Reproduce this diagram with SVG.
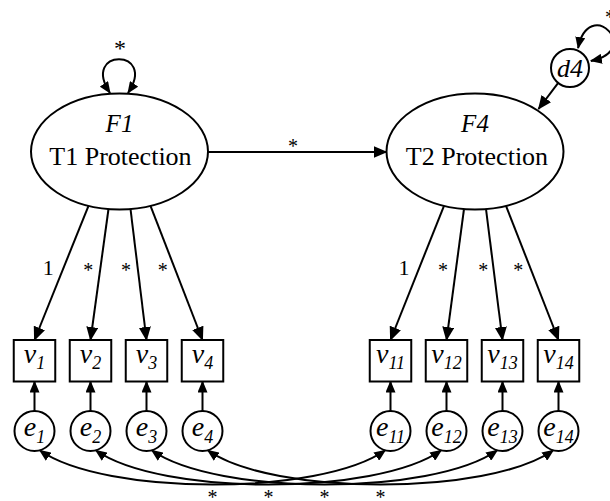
<svg xmlns="http://www.w3.org/2000/svg" width="610" height="501" viewBox="0 0 610 501" font-family="'Liberation Serif', 'Times New Roman', Times, 'DejaVu Serif', serif">
  <style>
    .shape { fill: #fff; stroke: #000; stroke-width: 2; }
    .edge { fill: none; stroke: #000; stroke-width: 2; }
    text { font-family: 'Liberation Serif', 'Times New Roman', Times, 'DejaVu Serif', serif; fill: #000; }
    .it { font-style: italic; }
    .big { font-size: 26px; }
    .var { font-size: 28px; font-style: italic; }
    .sub { font-size: 18px; }
    .star { font-size: 20px; }
  </style>
  <defs>
    <marker id="head" markerUnits="userSpaceOnUse" markerWidth="14" markerHeight="12" refX="13" refY="6" orient="auto">
      <path d="M0,0 L14,6 L0,12 z" fill="#000"/>
    </marker>
    <marker id="headS" markerUnits="userSpaceOnUse" markerWidth="12" markerHeight="10" refX="11" refY="5" orient="auto">
      <path d="M0,0 L12,5 L0,10 z" fill="#000"/>
    </marker>
    <marker id="headB" markerUnits="userSpaceOnUse" markerWidth="12" markerHeight="10" refX="11" refY="5" orient="auto-start-reverse">
      <path d="M0,0 L12,5 L0,10 z" fill="#000"/>
    </marker>
  </defs>
  <rect width="610" height="501" fill="#fff"/>

  <!-- connectors -->
  <g id="connectors">
    <!-- variance loops -->
    <path class="edge" d="M110,93 C80,48 158,48 128,93" marker-start="url(#headB)" marker-end="url(#headB)"/>
    <path class="edge" d="M578.1,48.1 C588.7,-4.9 643.9,50.3 590.9,60.9" marker-start="url(#headB)" marker-end="url(#headB)"/>
    <!-- structural paths -->
    <line class="edge" x1="208" y1="152" x2="386.5" y2="152" marker-end="url(#head)"/>
    <line class="edge" x1="558.2" y1="82.8" x2="538.5" y2="109" marker-end="url(#head)"/>
    <!-- loadings F1 -->
    <line class="edge" x1="88.5" y1="205.8" x2="34.5" y2="340" marker-end="url(#head)"/>
    <line class="edge" x1="108.5" y1="209" x2="90.5" y2="340" marker-end="url(#head)"/>
    <line class="edge" x1="130.5" y1="209" x2="146.5" y2="340" marker-end="url(#head)"/>
    <line class="edge" x1="150.5" y1="205.8" x2="202.5" y2="340" marker-end="url(#head)"/>
    <!-- loadings F4 -->
    <line class="edge" x1="444" y1="205.8" x2="390.5" y2="340" marker-end="url(#head)"/>
    <line class="edge" x1="464" y1="209" x2="446.5" y2="340" marker-end="url(#head)"/>
    <line class="edge" x1="486" y1="209" x2="502.5" y2="340" marker-end="url(#head)"/>
    <line class="edge" x1="506" y1="205.8" x2="558.5" y2="340" marker-end="url(#head)"/>
    <!-- residual paths -->
    <line class="edge" x1="34.5" y1="411" x2="34.5" y2="381.5" marker-end="url(#headS)"/>
    <line class="edge" x1="90.5" y1="411" x2="90.5" y2="381.5" marker-end="url(#headS)"/>
    <line class="edge" x1="146.5" y1="411" x2="146.5" y2="381.5" marker-end="url(#headS)"/>
    <line class="edge" x1="202.5" y1="411" x2="202.5" y2="381.5" marker-end="url(#headS)"/>
    <line class="edge" x1="390.5" y1="411" x2="390.5" y2="381.5" marker-end="url(#headS)"/>
    <line class="edge" x1="446.5" y1="411" x2="446.5" y2="381.5" marker-end="url(#headS)"/>
    <line class="edge" x1="502.5" y1="411" x2="502.5" y2="381.5" marker-end="url(#headS)"/>
    <line class="edge" x1="558.5" y1="411" x2="558.5" y2="381.5" marker-end="url(#headS)"/>
    <!-- residual covariances -->
    <path class="edge" d="M39.7,450.3 C104.5,496 320.5,496 385.3,450.3" marker-start="url(#headB)" marker-end="url(#headB)"/>
    <path class="edge" d="M95.7,450.3 C160.5,496 376.5,496 441.3,450.3" marker-start="url(#headB)" marker-end="url(#headB)"/>
    <path class="edge" d="M151.7,450.3 C216.5,496 432.5,496 497.3,450.3" marker-start="url(#headB)" marker-end="url(#headB)"/>
    <path class="edge" d="M207.7,450.3 C272.5,496 488.5,496 553.3,450.3" marker-start="url(#headB)" marker-end="url(#headB)"/>
    <!-- parameter labels -->
    <g class="star" text-anchor="middle">
      <text x="120" y="56" font-size="24">*</text>
      <text x="610" y="24">*</text>
      <text x="293" y="153">*</text>
      <text x="88.3" y="277">*</text>
      <text x="126" y="277">*</text>
      <text x="162.7" y="277">*</text>
      <text x="443" y="277">*</text>
      <text x="483.3" y="277">*</text>
      <text x="518.3" y="277">*</text>
      <text x="212.5" y="504">*</text>
      <text x="268.5" y="504">*</text>
      <text x="324.5" y="504">*</text>
      <text x="380.5" y="504">*</text>
    </g>
    <g font-size="22" text-anchor="middle">
      <text x="48.3" y="275">1</text>
      <text x="404" y="275">1</text>
    </g>
  </g>

  <!-- latent factors -->
  <g id="F1">
    <ellipse class="shape" cx="119.5" cy="151.5" rx="88.5" ry="58"/>
    <text class="it" x="119.5" y="131.5" font-size="25" text-anchor="middle">F1</text>
    <text class="big" x="120.5" y="165" text-anchor="middle">T1 Protection</text>
  </g>
  <g id="F4">
    <ellipse class="shape" cx="475" cy="151.5" rx="88.5" ry="58"/>
    <text class="it" x="475" y="131.5" font-size="25" text-anchor="middle">F4</text>
    <text class="big" x="477" y="165" text-anchor="middle">T2 Protection</text>
  </g>
  <g id="d4">
    <circle class="shape" cx="570" cy="68" r="19"/>
    <text class="it big" x="570" y="77" text-anchor="middle">d4</text>
  </g>

  <!-- observed indicators -->
  <g id="v1"><rect class="shape" x="13.75" y="340" width="41.5" height="41.5"/>
    <text class="var" x="34.5" y="363" text-anchor="middle">v<tspan class="sub" dy="6">1</tspan></text></g>
  <g id="v2"><rect class="shape" x="69.75" y="340" width="41.5" height="41.5"/>
    <text class="var" x="90.5" y="363" text-anchor="middle">v<tspan class="sub" dy="6">2</tspan></text></g>
  <g id="v3"><rect class="shape" x="125.75" y="340" width="41.5" height="41.5"/>
    <text class="var" x="146.5" y="363" text-anchor="middle">v<tspan class="sub" dy="6">3</tspan></text></g>
  <g id="v4"><rect class="shape" x="181.75" y="340" width="41.5" height="41.5"/>
    <text class="var" x="202.5" y="363" text-anchor="middle">v<tspan class="sub" dy="6">4</tspan></text></g>
  <g id="v11"><rect class="shape" x="369.75" y="340" width="41.5" height="41.5"/>
    <text class="var" x="390.5" y="363" text-anchor="middle">v<tspan class="sub" dy="6">11</tspan></text></g>
  <g id="v12"><rect class="shape" x="425.75" y="340" width="41.5" height="41.5"/>
    <text class="var" x="446.5" y="363" text-anchor="middle">v<tspan class="sub" dy="6">12</tspan></text></g>
  <g id="v13"><rect class="shape" x="481.75" y="340" width="41.5" height="41.5"/>
    <text class="var" x="502.5" y="363" text-anchor="middle">v<tspan class="sub" dy="6">13</tspan></text></g>
  <g id="v14"><rect class="shape" x="537.75" y="340" width="41.5" height="41.5"/>
    <text class="var" x="558.5" y="363" text-anchor="middle">v<tspan class="sub" dy="6">14</tspan></text></g>

  <!-- residuals -->
  <g id="e1"><circle class="shape" cx="34.5" cy="431" r="20"/>
    <text class="var" x="34.5" y="436" text-anchor="middle">e<tspan class="sub" dy="7">1</tspan></text></g>
  <g id="e2"><circle class="shape" cx="90.5" cy="431" r="20"/>
    <text class="var" x="90.5" y="436" text-anchor="middle">e<tspan class="sub" dy="7">2</tspan></text></g>
  <g id="e3"><circle class="shape" cx="146.5" cy="431" r="20"/>
    <text class="var" x="146.5" y="436" text-anchor="middle">e<tspan class="sub" dy="7">3</tspan></text></g>
  <g id="e4"><circle class="shape" cx="202.5" cy="431" r="20"/>
    <text class="var" x="202.5" y="436" text-anchor="middle">e<tspan class="sub" dy="7">4</tspan></text></g>
  <g id="e11"><circle class="shape" cx="390.5" cy="431" r="20"/>
    <text class="var" x="390.5" y="436" text-anchor="middle">e<tspan class="sub" dy="7">11</tspan></text></g>
  <g id="e12"><circle class="shape" cx="446.5" cy="431" r="20"/>
    <text class="var" x="446.5" y="436" text-anchor="middle">e<tspan class="sub" dy="7">12</tspan></text></g>
  <g id="e13"><circle class="shape" cx="502.5" cy="431" r="20"/>
    <text class="var" x="502.5" y="436" text-anchor="middle">e<tspan class="sub" dy="7">13</tspan></text></g>
  <g id="e14"><circle class="shape" cx="558.5" cy="431" r="20"/>
    <text class="var" x="558.5" y="436" text-anchor="middle">e<tspan class="sub" dy="7">14</tspan></text></g>
</svg>
